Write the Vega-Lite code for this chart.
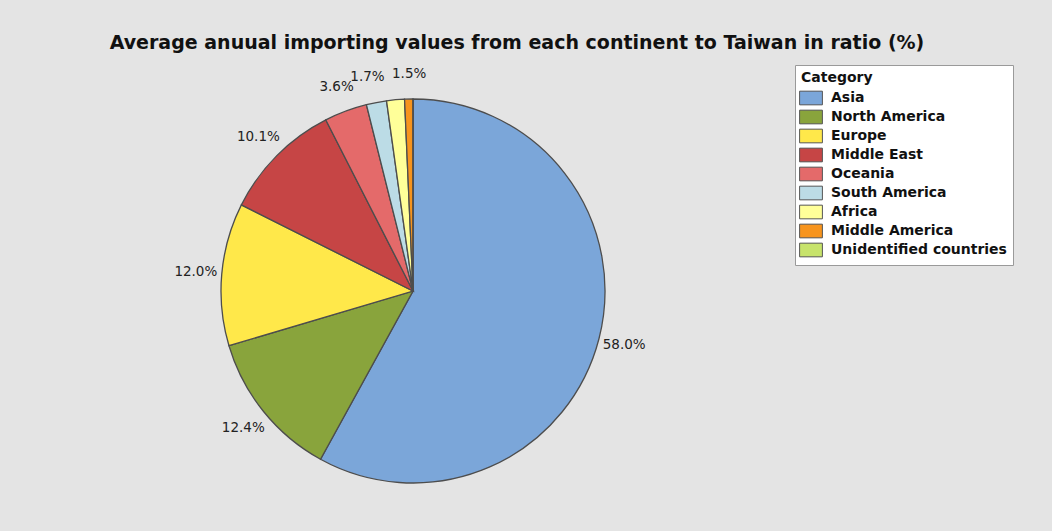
{
  "$schema": "https://vega.github.io/schema/vega-lite/v6.json",
  "autosize": {"type": "none"},
  "width": 826,
  "height": 462,
  "padding": {"left": 0, "top": 60, "right": 226, "bottom": 9},
  "background": "#e4e4e4",
  "config": {"view": {"stroke": null}, "font": "DejaVu Sans"},
  "title": {
    "text": "Average anuual importing values from each continent to Taiwan  in ratio (%)",
    "anchor": "middle",
    "dx": 104,
    "offset": 7,
    "font": "DejaVu Sans",
    "fontSize": 19,
    "fontWeight": "bold",
    "color": "#111111"
  },
  "data": {
    "values": [
      {"idx": 1, "category": "Asia", "ratio": 0.580},
      {"idx": 2, "category": "North America", "ratio": 0.124},
      {"idx": 3, "category": "Europe", "ratio": 0.120},
      {"idx": 4, "category": "Middle East", "ratio": 0.101},
      {"idx": 5, "category": "Oceania", "ratio": 0.036},
      {"idx": 6, "category": "South America", "ratio": 0.017},
      {"idx": 7, "category": "Africa", "ratio": 0.015},
      {"idx": 8, "category": "Middle America", "ratio": 0.007},
      {"idx": 9, "category": "Unidentified countries", "ratio": 0.0}
    ]
  },
  "encoding": {
    "theta": {"field": "ratio", "type": "quantitative", "stack": true},
    "order": {"field": "idx", "type": "quantitative"}
  },
  "layer": [
    {
      "mark": {"type": "arc", "outerRadius": 192, "stroke": "#4d4d4d", "strokeWidth": 1.3},
      "encoding": {
        "color": {
          "field": "category",
          "type": "nominal",
          "sort": ["Asia", "North America", "Europe", "Middle East", "Oceania", "South America", "Africa", "Middle America", "Unidentified countries"],
          "scale": {
            "domain": ["Asia", "North America", "Europe", "Middle East", "Oceania", "South America", "Africa", "Middle America", "Unidentified countries"],
            "range": ["#7ba6d9", "#89a43c", "#ffe84a", "#c64545", "#e46a6a", "#bcdce6", "#ffff99", "#f7941d", "#c7e36b"]
          },
          "legend": {
            "title": "Category",
            "orient": "none",
            "legendX": 795,
            "legendY": 5,
            "fillColor": "white",
            "strokeColor": "#9a9a9a",
            "padding": 6,
            "titleFont": "DejaVu Sans",
            "titleFontSize": 14,
            "titleFontWeight": "bold",
            "titleColor": "#111111",
            "titlePadding": 3,
            "labelFont": "DejaVu Sans",
            "labelFontSize": 14,
            "labelFontWeight": "bold",
            "labelColor": "#111111",
            "labelLimit": 300,
            "symbolType": "M-1.2,-0.72H1.2V0.72H-1.2Z",
            "symbolSize": 361,
            "symbolStrokeColor": "#555555",
            "symbolStrokeWidth": 1,
            "symbolOpacity": 1,
            "rowPadding": 0,
            "labelOffset": 10
          }
        }
      }
    },
    {
      "transform": [{"filter": "datum.ratio >= 0.01"}],
      "mark": {
        "type": "text",
        "radius": 218,
        "fontSize": 13.5,
        "color": "#222222",
        "font": "DejaVu Sans",
        "dx": {"expr": "datum.category === 'Africa' ? 16 : (datum.category === 'South America' ? -4 : 0)"}
      },
      "encoding": {
        "text": {"field": "ratio", "type": "quantitative", "format": ".1%"}
      }
    }
  ]
}
